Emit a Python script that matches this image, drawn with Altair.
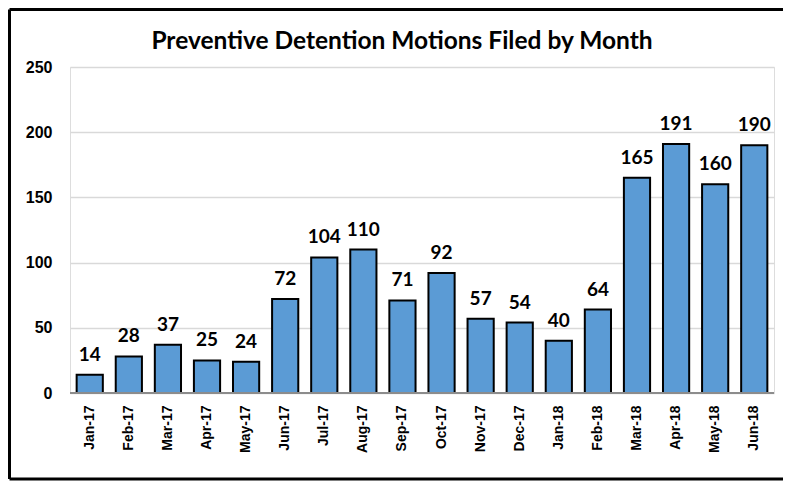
import altair as alt
import pandas as pd

months = ["Jan-17", "Feb-17", "Mar-17", "Apr-17", "May-17", "Jun-17", "Jul-17", "Aug-17", "Sep-17",
          "Oct-17", "Nov-17", "Dec-17", "Jan-18", "Feb-18", "Mar-18", "Apr-18", "May-18", "Jun-18"]
motions = [14, 28, 37, 25, 24, 72, 104, 110, 71, 92, 57, 54, 40, 64, 165, 191, 160, 190]
title_text = "Preventive Detention Motions Filed by Month"

df = pd.DataFrame({"month": months, "motions": motions})
one = pd.DataFrame({"t": [title_text]})

x = alt.X("month:N", sort=months, title=None,
          scale=alt.Scale(paddingInner=0.33, paddingOuter=0.17),
          axis=alt.Axis(labelAngle=-90, labelFont="Liberation Sans", labelFontSize=14,
                        labelFontWeight="bold", labelColor="#000000", ticks=False,
                        labelPadding=12, domain=False, labelBaseline="middle", labelAlign="right"))
y = alt.Y("motions:Q", title=None,
          scale=alt.Scale(domain=[0, 250], nice=False),
          axis=alt.Axis(values=[0, 50, 100, 150, 200, 250], labelFont="Liberation Sans",
                        labelFontSize=16, labelFontWeight="bold", labelColor="#000000",
                        ticks=False, domain=False, labelPadding=18,
                        grid=True, gridColor="#d9d9d9", gridWidth=1.5))

bars = alt.Chart(df).mark_bar(color="#5b9bd5", stroke="#000000", strokeWidth=2).encode(x=x, y=y)

labels = alt.Chart(df).mark_text(dy=-14, baseline="alphabetic", font="Lato", fontSize=19,
                                 fontWeight="bold", color="#000000").encode(
    x=alt.X("month:N", sort=months), y="motions:Q", text="motions:Q")

baseline = alt.Chart(one).mark_rule(color="#8c8c8c", strokeWidth=2).encode(
    y=alt.datum(0), x=alt.value(0), x2=alt.value(704))

frame_top = alt.Chart(one).mark_rule(color="#000000", strokeWidth=3, clip=False).encode(
    x=alt.value(-60.5), x2=alt.value(721), y=alt.value(-57.5))
frame_bottom = alt.Chart(one).mark_rule(color="#000000", strokeWidth=3, clip=False).encode(
    x=alt.value(-60.5), x2=alt.value(721), y=alt.value(412))
frame_left = alt.Chart(one).mark_rule(color="#000000", strokeWidth=3, clip=False).encode(
    x=alt.value(-60.5), y=alt.value(-57.5), y2=alt.value(412))

title = alt.Chart(one).mark_text(font="Lato", fontSize=24.5, fontWeight="bold", color="#000000",
                                 baseline="middle", align="center", clip=False).encode(
    x=alt.value(332), y=alt.value(-25), text="t:N")

chart = alt.layer(bars, labels, baseline, frame_top, frame_bottom, frame_left, title).properties(
    width=704, height=326,
    padding={"left": 62, "top": 59, "right": 9, "bottom": 90},
    autosize=alt.AutoSizeParams(type="none"),
).configure_view(stroke="#a6a6a6", strokeWidth=2).configure(background="#ffffff")

chart.save("out.html", embed_options={"renderer": "svg", "actions": False})
